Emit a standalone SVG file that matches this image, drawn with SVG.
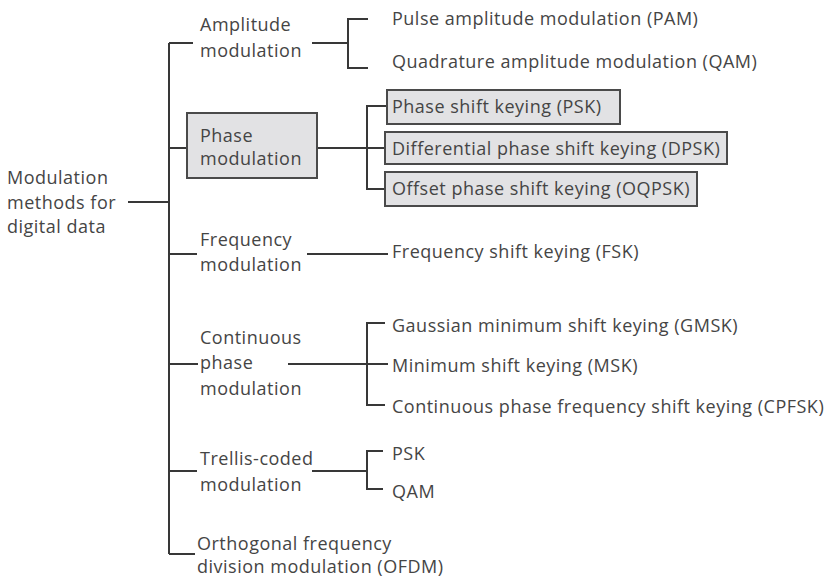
<svg xmlns="http://www.w3.org/2000/svg" width="828" height="580" viewBox="0 0 828 580">
<style>
text{font-family:"Open Sans","DejaVu Sans",sans-serif;font-size:18px;fill:#454545;letter-spacing:0.5px}
.ln{stroke:#383838;stroke-width:2;fill:none}
.box{fill:#e2e2e4;stroke:#4a4a4a;stroke-width:2}
</style>
<rect width="828" height="580" fill="#fff"/>
<g id="connectors" class="ln">
<path d="M128,202H169M169,43V554"/>
<path d="M169,43H193M312,43H348M368,19H348V68H368"/>
<path d="M169,148H187M317,148H387M387,106H367V189H387"/>
<path d="M169,254H197M307,254H388"/>
<path d="M169,364H198M288,364H388M385,323H367V405H385"/>
<path d="M169,471H197M312,471H367M383,451H367V489H383"/>
<path d="M169,554H195"/>
</g>
<g id="root"><text x="7" y="184">Modulation</text><text x="7" y="209">methods for</text><text x="7" y="233">digital data</text></g>
<g id="amplitude"><text x="200" y="31">Amplitude</text><text x="200" y="57">modulation</text></g>
<g id="pam"><text x="392" y="25">Pulse amplitude modulation (PAM)</text></g>
<g id="qam"><text x="392" y="68">Quadrature amplitude modulation (QAM)</text></g>
<g id="phase"><rect class="box" x="187" y="113" width="130" height="65"/><text x="200" y="142">Phase</text><text x="200" y="165">modulation</text></g>
<g id="psk"><rect class="box" x="387" y="90" width="233" height="34"/><text x="392" y="113">Phase shift keying (PSK)</text></g>
<g id="dpsk"><rect class="box" x="385" y="132" width="342" height="32"/><text x="392" y="155">Differential phase shift keying (DPSK)</text></g>
<g id="oqpsk"><rect class="box" x="385" y="172" width="312" height="34"/><text x="392" y="195">Offset phase shift keying (OQPSK)</text></g>
<g id="frequency"><text x="200" y="246">Frequency</text><text x="200" y="271">modulation</text></g>
<g id="fsk"><text x="392" y="258">Frequency shift keying (FSK)</text></g>
<g id="continuous"><text x="200" y="344">Continuous</text><text x="200" y="369">phase</text><text x="200" y="395">modulation</text></g>
<g id="gmsk"><text x="392" y="332">Gaussian minimum shift keying (GMSK)</text></g>
<g id="msk"><text x="392" y="372">Minimum shift keying (MSK)</text></g>
<g id="cpfsk"><text x="392" y="413">Continuous phase frequency shift keying (CPFSK)</text></g>
<g id="trellis"><text x="200" y="465">Trellis-coded</text><text x="200" y="491">modulation</text></g>
<g id="tpsk"><text x="392" y="460">PSK</text></g>
<g id="tqam"><text x="392" y="498">QAM</text></g>
<g id="ofdm"><text x="197" y="550">Orthogonal frequency</text><text x="197" y="573">division modulation (OFDM)</text></g>
</svg>
